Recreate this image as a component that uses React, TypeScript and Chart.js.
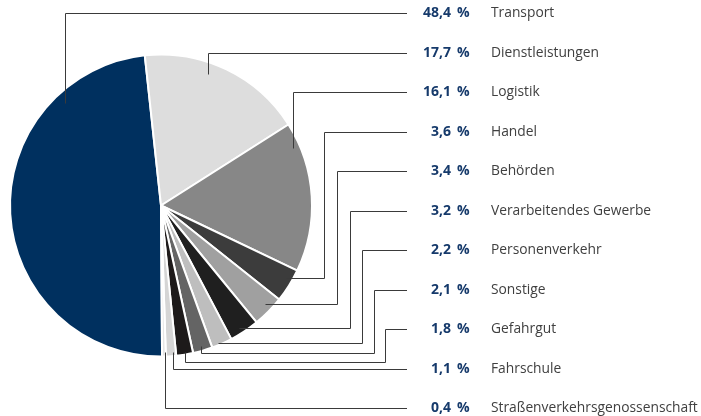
import React, { useEffect, useRef } from "react";
import { Chart, registerables } from "chart.js";

Chart.register(...registerables);

const categories = [
  "Transport",
  "Dienstleistungen",
  "Logistik",
  "Handel",
  "Behörden",
  "Verarbeitendes Gewerbe",
  "Personenverkehr",
  "Sonstige",
  "Gefahrgut",
  "Fahrschule",
  "Straßenverkehrsgenossenschaft",
];

const shares = [48.4, 17.7, 16.1, 3.6, 3.4, 3.2, 2.2, 2.1, 1.8, 1.1, 0.4];

const sliceColors = [
  "#00305f",
  "#dddddd",
  "#878787",
  "#3c3c3c",
  "#a0a0a0",
  "#1f1f1f",
  "#bebebe",
  "#646464",
  "#1d1a1a",
  "#d5d5d5",
  "#e6e6e6",
];

// leader-line routing (layout only): anchor fraction inside slice (angle t, radius rf),
// optional drop-down y, optional elbow x
const leaderRoutes = [
  { t: 0.788, rf: 0.927 },
  { t: 0.407, rf: 0.925 },
  { t: 0.155, rf: 0.954 },
  { t: 0.354, rf: 0.957, elbowX: 324 },
  { t: 0.4, rf: 0.947, elbowX: 337 },
  { t: 0.59, rf: 0.96, elbowX: 350 },
  { t: 0.67, rf: 0.987, elbowX: 362 },
  { t: 0.53, rf: 0.967, dropY: 353, elbowX: 374 },
  { t: 0.46, rf: 0.983, dropY: 362, elbowX: 385 },
  { t: 0.28, rf: 0.973 },
  { t: 0.2, rf: 0.97 },
];

const ROW_TOP = 13;
const ROW_STEP = 39.5;
const LINE_END = 407;

const leaderPlugin = {
  id: "leaders",
  afterDraw(chart: any) {
    const ctx = chart.ctx as CanvasRenderingContext2D;
    const meta = chart.getDatasetMeta(0);
    ctx.save();
    meta.data.forEach((arc: any, i: number) => {
      const route = leaderRoutes[i];
      const a = arc.startAngle + route.t * (arc.endAngle - arc.startAngle);
      const r = arc.outerRadius * route.rf;
      const ax = Math.round(arc.x + r * Math.cos(a)) + 0.5;
      const ay = Math.round(arc.y + r * Math.sin(a)) + 0.5;
      const rowY = Math.round(ROW_TOP + i * ROW_STEP) + 0.5;
      ctx.beginPath();
      ctx.strokeStyle = "#3a3a3a";
      ctx.lineWidth = 1;
      ctx.moveTo(ax, ay);
      let cy = ay;
      if (route.dropY !== undefined) {
        cy = route.dropY + 0.5;
        ctx.lineTo(ax, cy);
      }
      if (route.elbowX !== undefined) {
        const ex = route.elbowX + 0.5;
        ctx.lineTo(ex, cy);
        ctx.lineTo(ex, rowY);
      } else {
        ctx.lineTo(ax, rowY);
      }
      ctx.lineTo(LINE_END, rowY);
      ctx.stroke();

      const num = shares[i].toFixed(1).replace(".", ",");
      ctx.textBaseline = "middle";
      ctx.font = "bold 14px 'Open Sans'";
      ctx.fillStyle = "#163a6b";
      ctx.textAlign = "right";
      ctx.fillText(num, 451, rowY);
      ctx.textAlign = "left";
      ctx.fillText("%", 457, rowY);
      ctx.font = "13.8px 'Open Sans'";
      ctx.fillStyle = "#404040";
      ctx.fillText(categories[i], 491, rowY);
    });
    ctx.restore();
  },
};

export default function App() {
  const ref = useRef<HTMLCanvasElement | null>(null);
  useEffect(() => {
    if (!ref.current) return;
    const chart = new Chart(ref.current, {
      type: "pie",
      data: {
        labels: categories,
        datasets: [
          {
            data: shares,
            backgroundColor: sliceColors,
            borderColor: "#ffffff",
            borderWidth: 2,
          },
        ],
      },
      options: {
        responsive: false,
        animation: false,
        devicePixelRatio: 1,
        rotation: 179.6,
        layout: { padding: { left: 9, top: 53.5, right: 388, bottom: 58.5 } },
        plugins: { legend: { display: false }, tooltip: { enabled: false } },
        events: [],
      },
      plugins: [leaderPlugin],
    });
    return () => chart.destroy();
  }, []);
  return (
    <div style={{ position: "fixed", left: 0, top: 0, width: 701, height: 416, background: "#fff" }}>
      <canvas ref={ref} width={701} height={416} style={{ display: "block" }} />
    </div>
  );
}
